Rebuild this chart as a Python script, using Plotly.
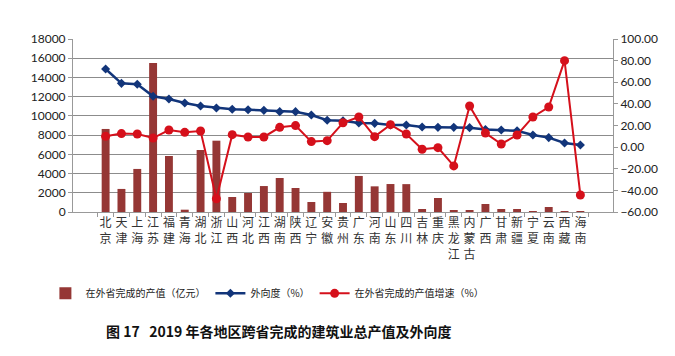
import plotly.graph_objects as go

regions = ["北京","天津","上海","江苏","福建","青海","湖北","浙江","山西","河北","江西","湖南","陕西","辽宁","安徽","贵州",
           "广东","河南","山东","四川","吉林","重庆","黑龙江","内蒙古","广西","甘肃","新疆","宁夏","云南","西藏","海南"]
output_value = [8640,2400,4480,15500,5830,240,6450,7420,1560,1980,2700,3540,2500,1040,2100,940,
                3750,2670,2910,2900,310,1460,200,200,830,310,310,100,520,20,30]
outward_ratio = [72.3,59.0,58.1,47.0,44.5,40.8,38.0,36.2,35.0,34.6,34.0,32.8,32.8,29.7,24.8,24.3,
                 22.3,22.0,20.5,20.5,18.6,18.3,18.3,18.0,16.2,15.8,15.2,11.2,8.8,3.8,2.0]
growth = [10.0,12.5,12.1,8.4,15.8,13.7,14.9,-47.7,11.5,9.4,9.4,18.3,19.9,5.1,6.0,22.5,
          27.9,9.7,20.8,12.1,-2.0,-0.5,-17.4,38.0,13.1,2.9,11.2,27.9,37.1,80.0,-44.3]
left_ticks = list(range(0, 18001, 2000))
right_ticks = list(range(-60, 101, 20))

labels = ["<br>".join(list(r)) for r in regions]

CJK = "Noto Sans CJK SC"
NUM = "Lato, Liberation Sans, sans-serif"

fig = go.Figure()
fig.add_trace(go.Bar(x=labels, y=output_value, name="在外省完成的产值（亿元）",
                     marker=dict(color="#953735", line=dict(width=0)), width=0.5))
fig.add_trace(go.Scatter(x=labels, y=outward_ratio, name="外向度（%）", yaxis="y2",
                         mode="lines+markers", line=dict(color="#12357A", width=2.5),
                         marker=dict(symbol="diamond", size=7, color="#12357A")))
fig.add_trace(go.Scatter(x=labels, y=growth, name="在外省完成的产值增速（%）", yaxis="y2",
                         mode="lines+markers", line=dict(color="#D5101B", width=2),
                         marker=dict(symbol="circle", size=9, color="#D5101B")))

fig.update_layout(
    width=675, height=356,
    margin=dict(l=65, r=70, t=31, b=152),
    paper_bgcolor="white", plot_bgcolor="white",
    showlegend=True,
    legend=dict(orientation="h", x=0.36, xanchor="center", y=-0.47, yanchor="middle",
                font=dict(family=CJK, size=10, color="#222"), itemwidth=30,
                traceorder="normal", bgcolor="rgba(0,0,0,0)"),
    bargap=0.5,
    xaxis=dict(type="category", showline=True, linecolor="#999", linewidth=1,
               ticks="outside", tickson="boundaries", ticklen=4, tickcolor="#999",
               tickfont=dict(family=CJK, size=12, color="#333"), tickangle=0,
               showgrid=False),
    yaxis=dict(range=[0, 18000], tickvals=left_ticks, tickformat="d", showline=True, linecolor="#999",
               ticks="outside", ticklen=4, tickcolor="#999",
               gridcolor="#8c8c8c", gridwidth=1, zeroline=False,
               tickfont=dict(family=NUM, size=12, color="#222")),
    yaxis2=dict(overlaying="y", side="right", range=[-60, 100], tickvals=right_ticks,
                tickformat=".2f", showgrid=False, zeroline=False, showline=True,
                linecolor="#999", ticks="outside", ticklen=4, tickcolor="#999",
                tickfont=dict(family=NUM, size=12, color="#222")),
)

fig.add_annotation(text="<b>图 17   2019 年各地区跨省完成的建筑业总产值及外向度</b>",
                   xref="paper", yref="paper", x=0.38, y=-0.688, xanchor="center", yanchor="middle",
                   showarrow=False, font=dict(family=CJK, size=14, color="#111"))

fig.write_html("out.html")
